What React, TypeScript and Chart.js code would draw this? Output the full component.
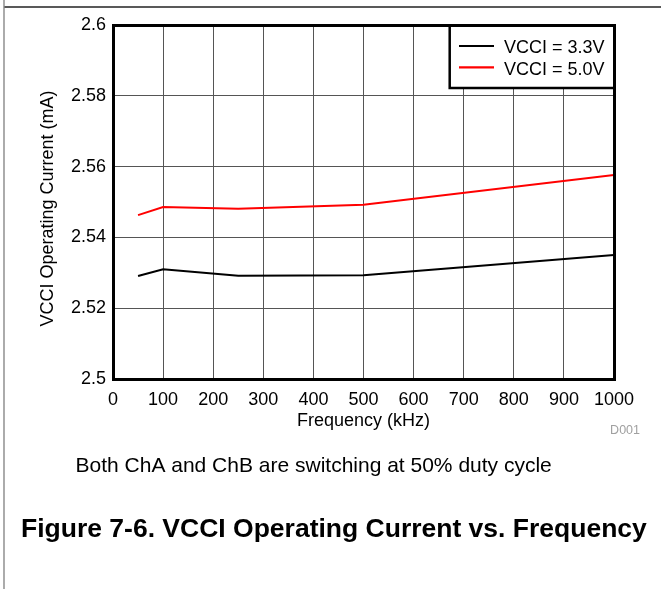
import React, { useEffect, useRef } from 'react';
import { Chart, registerables } from 'chart.js';

Chart.register(...registerables);

// ---- data ----
const frequencies = [50, 100, 250, 500, 1000];
const vcci33 = [2.5291, 2.531, 2.5292, 2.5293, 2.535];
const vcci50 = [2.5463, 2.5486, 2.5481, 2.5492, 2.5576];
const seriesLabels = ['VCCI = 3.3V', 'VCCI = 5.0V'];
const seriesColors = ['#000000', '#ff0000'];
const xTickLabels = ['0', '100', '200', '300', '400', '500', '600', '700', '800', '900', '1000'];
const yTickLabels = ['2.5', '2.52', '2.54', '2.56', '2.58', '2.6'];
const xTitle = 'Frequency (kHz)';
const yTitle = 'VCCI Operating Current (mA)';
const codeLabel = 'D001';
const noteText = 'Both ChA and ChB are switching at 50% duty cycle';
const figureTitle = 'Figure 7-6. VCCI Operating Current vs. Frequency';

const FONT = "'Liberation Sans', Arial, Helvetica, sans-serif";

const decorPlugin = {
  id: 'decor',
  beforeDraw(chart: any) {
    const ctx = chart.ctx;
    ctx.save();
    ctx.fillStyle = '#ffffff';
    ctx.fillRect(0, 0, chart.width, chart.height);
    // page frame
    ctx.strokeStyle = '#222';
    ctx.lineWidth = 1.3;
    ctx.beginPath();
    ctx.moveTo(4, 7);
    ctx.lineTo(chart.width, 7);
    ctx.stroke();
    ctx.strokeStyle = '#888';
    ctx.lineWidth = 1.4;
    ctx.beginPath();
    ctx.moveTo(4, 0);
    ctx.lineTo(4, chart.height);
    ctx.stroke();
    ctx.restore();
  },
  beforeDatasetsDraw(chart: any) {
    const { ctx, chartArea } = chart;
    ctx.save();
    ctx.strokeStyle = '#000';
    ctx.lineWidth = 3;
    ctx.strokeRect(chartArea.left + 0.5, chartArea.top + 0.5, chartArea.right - chartArea.left, chartArea.bottom - chartArea.top);
    ctx.restore();
  },
  afterDatasetsDraw(chart: any) {
    const { ctx, chartArea } = chart;
    ctx.save();
    // legend box
    const lx = 449.7;
    const ty = chartArea.top + 0.5;
    const rx = chartArea.right + 0.5;
    const by = 88;
    ctx.fillStyle = '#fff';
    ctx.fillRect(lx, ty, rx - lx, by - ty);
    ctx.strokeStyle = '#000';
    ctx.lineWidth = 2.5;
    ctx.strokeRect(lx, ty, rx - lx, by - ty);
    ctx.lineWidth = 3;
    ctx.strokeRect(chartArea.left + 0.5, chartArea.top + 0.5, chartArea.right - chartArea.left, chartArea.bottom - chartArea.top);
    chart.data.datasets.forEach((ds: any, i: number) => {
      const y = 46 + 21.3 * i;
      ctx.strokeStyle = ds.borderColor;
      ctx.lineWidth = 2.2;
      ctx.beginPath();
      ctx.moveTo(459, y);
      ctx.lineTo(494, y);
      ctx.stroke();
      ctx.fillStyle = '#000';
      ctx.font = `18px ${FONT}`;
      ctx.textAlign = 'left';
      ctx.textBaseline = 'alphabetic';
      ctx.fillText(ds.label, 504, 53.4 + 21.3 * i);
    });
    ctx.restore();
  },
  afterDraw(chart: any) {
    const { ctx } = chart;
    ctx.save();
    // y axis title
    ctx.translate(52.7, 208.5);
    ctx.rotate(-Math.PI / 2);
    ctx.fillStyle = '#000';
    ctx.font = `18px ${FONT}`;
    ctx.textAlign = 'center';
    ctx.textBaseline = 'alphabetic';
    ctx.fillText(yTitle, 0, 0);
    ctx.restore();

    ctx.save();
    ctx.fillStyle = '#a0a0a0';
    ctx.font = `12.5px ${FONT}`;
    ctx.textAlign = 'right';
    ctx.textBaseline = 'alphabetic';
    ctx.fillText(codeLabel, 640, 434.3);

    ctx.fillStyle = '#000';
    ctx.font = `21px ${FONT}`;
    ctx.textAlign = 'left';
    ctx.fillText(noteText, 75.5, 472.3);

    ctx.font = `bold 26.5px ${FONT}`;
    ctx.fillText(figureTitle, 21, 536.7);
    ctx.restore();
  },
};

export default function App() {
  const canvasRef = useRef<HTMLCanvasElement | null>(null);

  useEffect(() => {
    const canvas = canvasRef.current;
    if (!canvas) return;
    const chart = new Chart(canvas, {
      type: 'line',
      data: {
        datasets: [
          {
            label: seriesLabels[0],
            data: frequencies.map((f, i) => ({ x: f, y: vcci33[i] })),
            borderColor: seriesColors[0],
            backgroundColor: seriesColors[0],
            borderWidth: 2,
            pointRadius: 0,
            tension: 0,
          },
          {
            label: seriesLabels[1],
            data: frequencies.map((f, i) => ({ x: f, y: vcci50[i] })),
            borderColor: seriesColors[1],
            backgroundColor: seriesColors[1],
            borderWidth: 2,
            pointRadius: 0,
            tension: 0,
          },
        ],
      },
      options: {
        responsive: false,
        animation: false,
        devicePixelRatio: 1,
        layout: { padding: { left: 0, top: 25, right: 47, bottom: 157.2 } },
        plugins: {
          legend: { display: false },
          tooltip: { enabled: false },
        },
        scales: {
          x: {
            type: 'linear',
            min: 0,
            max: 1000,
            ticks: {
              stepSize: 100,
              color: '#000',
              padding: 10,
              maxRotation: 0,
              font: { family: FONT, size: 18 },
              callback: (v: any) => xTickLabels[Math.round(Number(v) / 100)] ?? '',
            },
            grid: { color: '#555', lineWidth: 1, drawTicks: false },
            border: { display: false },
            title: {
              display: true,
              text: xTitle,
              color: '#000',
              padding: { top: 0, bottom: 0 },
              font: { family: FONT, size: 18 },
            },
            afterFit: (scale: any) => {
              scale.height = 52.8;
            },
          },
          y: {
            type: 'linear',
            min: 2.5,
            max: 2.6,
            ticks: {
              stepSize: 0.02,
              color: '#000',
              padding: 7,
              font: { family: FONT, size: 18 },
              callback: (v: any) => yTickLabels[Math.round((Number(v) - 2.5) / 0.02)] ?? '',
            },
            grid: { color: '#555', lineWidth: 1, drawTicks: false },
            border: { display: false },
            afterFit: (scale: any) => {
              scale.width = 113;
            },
          },
        },
      },
      plugins: [decorPlugin],
    } as any);
    return () => chart.destroy();
  }, []);

  return (
    <div style={{ position: 'fixed', left: 0, top: 0, width: 661, height: 589, background: '#fff' }}>
      <canvas ref={canvasRef} width={661} height={589} style={{ width: 661, height: 589, display: 'block' }} />
    </div>
  );
}
